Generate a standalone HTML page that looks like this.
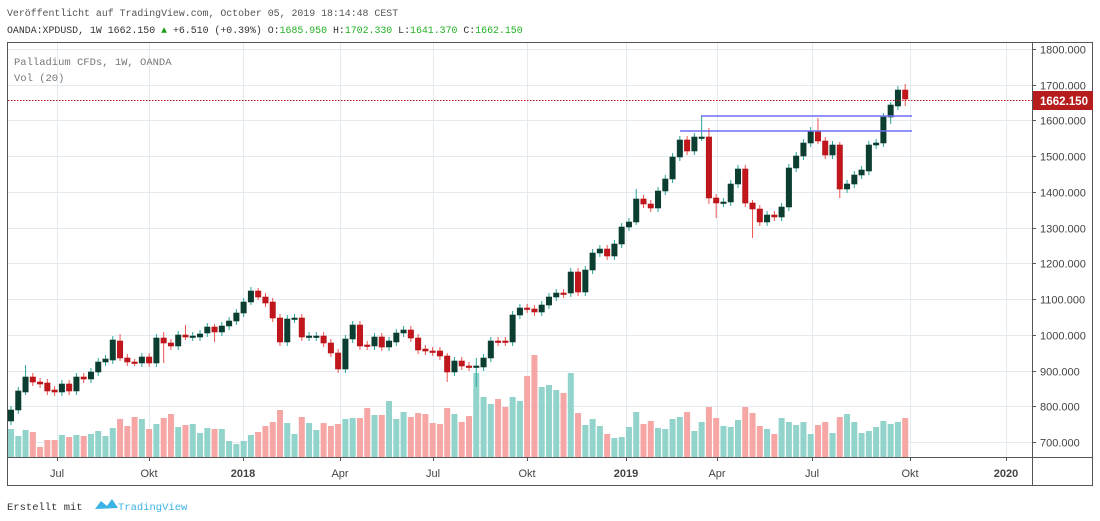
<!DOCTYPE html>
<html><head><meta charset="utf-8"><style>
body{margin:0;background:#fff;width:1100px;height:521px;overflow:hidden}
svg{position:absolute;left:0;top:0}
</style></head><body>
<svg id="s" width="1100" height="521" xmlns="http://www.w3.org/2000/svg" font-family="Liberation Sans, sans-serif">
<text x="7" y="16" font-family="Liberation Mono, monospace" font-size="9.9" fill="#555">Veröffentlicht auf TradingView.com, October 05, 2019 18:14:48 CEST</text>
<text x="7" y="33" font-family="Liberation Mono, monospace" font-size="9.9" fill="#333">OANDA:XPDUSD, 1W 1662.150 <tspan fill="#1a9c1a">▲</tspan> +6.510 (+0.39%) O:<tspan fill="#22b022">1685.950</tspan> H:<tspan fill="#22b022">1702.330</tspan> L:<tspan fill="#22b022">1641.370</tspan> C:<tspan fill="#22b022">1662.150</tspan></text>
<g id="grid"></g>
<g id="vol"></g>
<g id="cnd"></g>
<line x1="680" y1="131" x2="912" y2="131" stroke="#6f6ff5" stroke-width="1.6"/>
<line x1="701" y1="116" x2="912" y2="116" stroke="#6f6ff5" stroke-width="1.6"/>
<line x1="8" y1="100.5" x2="1032" y2="100.5" stroke="#c0161c" stroke-width="1" stroke-dasharray="1.5,1.5"/>
<text x="14" y="65" font-family="Liberation Mono, monospace" font-size="10.5" fill="#777">Palladium CFDs, 1W, OANDA</text>
<text x="14" y="81" font-family="Liberation Mono, monospace" font-size="10.5" fill="#777">Vol (20)</text>
<rect x="7.5" y="42.5" width="1085" height="443" fill="none" stroke="#555" stroke-width="1"/>
<line x1="1032.5" y1="42" x2="1032.5" y2="486" stroke="#555"/>
<line x1="7" y1="457.5" x2="1093" y2="457.5" stroke="#555"/>
<g id="ax"></g>
<rect x="1033" y="91" width="60" height="19" fill="#b71c1c"/>
<text x="1040" y="105" font-size="11.5" font-weight="bold" fill="#fff">1662.150</text>
<text x="7" y="510" font-family="Liberation Mono, monospace" font-size="10.5" fill="#333">Erstellt mit</text>
<path d="M95 509 L101 501 L107 506 L112 499 L118 508 Z" fill="#3bb3e4"/>
<text x="118" y="510" font-family="Liberation Mono, monospace" font-size="10.5" fill="#3bb3e4">TradingView</text>
</svg>
<script>
var ns="http://www.w3.org/2000/svg";
function el(p,t,a,txt){var e=document.createElementNS(ns,t);for(var k in a)e.setAttribute(k,a[k]);if(txt)e.textContent=txt;document.getElementById(p).appendChild(e);return e;}
for(var k=0;k<=11;k++){var y=Math.round(49+35.73*k)+.5;el("grid","line",{x1:8,x2:1032,y1:y,y2:y,stroke:"#e3ebf1"});
el("ax","line",{x1:1032,x2:1036,y1:y,y2:y,stroke:"#555"});
el("ax","text",{x:1040,y:y+4,"font-size":"11",fill:"#444"},(1800-100*k)+".000");}
var months=[[57,"Jul"],[149,"Okt"],[243,"2018"],[340,"Apr"],[433,"Jul"],[527,"Okt"],[626,"2019"],[717,"Apr"],[812,"Jul"],[910,"Okt"],[1006,"2020"]];
months.forEach(function(m){var x=m[0]+.5;el("grid","line",{x1:x,x2:x,y1:43,y2:457,stroke:"#e3ebf1"});
el("ax","line",{x1:x,x2:x,y1:457,y2:461,stroke:"#555"});
var b=m[1].length==4&&m[1][0]=="2";
el("ax","text",{x:m[0],y:477,"font-size":"11","text-anchor":"middle",fill:"#444","font-weight":b?"bold":"normal"},m[1]);});
var C=[[410,421,1],[391,410,1],[377,392,1],[377,382,0],[382,384,0],[383,391,0],[390,392,0],[384,392,1],[384,391,0],[377,391,1],[377,379,0],[372,379,1],[362,372,1],[359,362,1],[340,360,1],[341,358,0],[358,362,0],[362,363,0],[357,363,1],[357,363,0],[338,363,1],[338,343,0],[343,346,0],[335,346,1],[335,337,0],[336,337,1],[334,337,1],[327,333,1],[327,332,0],[326,332,1],[321,326,1],[313,321,1],[302,313,1],[291,302,1],[291,297,0],[297,303,0],[302,318,0],[318,342,0],[319,342,1],[318,319,1],[318,337,0],[336,337,1],[336,337,1],[336,343,0],[343,353,0],[353,369,0],[339,369,1],[325,339,1],[325,346,0],[345,346,0],[337,346,1],[337,347,0],[341,347,1],[333,342,1],[330,333,1],[330,338,0],[338,350,0],[349,351,0],[351,352,0],[351,356,0],[356,372,0],[361,372,1],[361,366,0],[366,367,0],[366,367,1],[358,367,1],[341,358,1],[341,342,0],[341,342,0],[315,342,1],[308,315,1],[308,309,0],[309,312,0],[305,312,1],[297,305,1],[293,297,1],[293,294,0],[272,293,1],[272,292,0],[270,292,1],[253,270,1],[249,253,1],[249,256,0],[244,256,1],[227,244,1],[222,227,1],[199,222,1],[199,204,0],[204,208,0],[191,208,1],[179,191,1],[157,179,1],[140,157,1],[140,151,0],[137,151,1],[137,138,1],[137,198,0],[198,203,0],[202,203,1],[184,202,1],[169,184,1],[169,203,0],[203,209,0],[209,222,0],[215,222,1],[215,217,0],[207,217,1],[168,207,1],[156,168,1],[143,156,1],[131,143,1],[131,141,0],[141,155,0],[145,155,1],[145,189,0],[184,189,1],[175,184,1],[170,175,1],[145,171,1],[143,145,1],[117,143,1],[105,117,1],[90,106,1],[90,99,0]];
var V=[429,436,430,432,447,440,440,435,437,435,436,434,431,436,428,419,426,417,419,429,424,418,414,427,425,424,433,428,429,429,441,444,441,435,432,426,422,410,423,434,417,423,430,423,426,424,419,418,418,408,415,415,401,419,412,417,413,414,423,424,408,414,422,416,373,397,404,399,407,397,401,376,355,387,385,390,393,373,413,425,419,426,434,438,437,427,412,424,421,428,429,419,417,412,431,422,407,418,426,427,420,407,413,426,429,434,418,422,425,422,434,425,422,433,417,414,422,433,431,427,421,424,422,418];
var W={17:[20,3],33:[-4,0],34:[-3,0],60:[0,10],64:[-8,20],86:[-10,0],95:[-22,0],96:[-9,6],97:[-4,15],102:[0,29],111:[-13,0],114:[0,9],123:[-6,7],121:[0,7],24:[-10,0],28:[0,10],2:[-12,0],15:[-7,0],21:[-6,20]};
for(var i=0;i<C.length;i++){var x=11+7.27*i,c=C[i],g=c[2];
var v=V[i]||430;el("vol","rect",{x:x-3,y:v,width:6,height:457-v,fill:g?"#92d3cb":"#f5a6a5"});
var w=W[i]||[-4,4];
el("cnd","line",{x1:x,x2:x,y1:c[0]+Math.min(-3,w[0]),y2:c[1]+Math.max(3,w[1]),stroke:g?"#26a69a":"#ef5350","stroke-width":1});
var h=Math.max(1.5,c[1]-c[0]);
el("cnd","rect",{x:x-2.7,y:c[0],width:5.4,height:h,fill:g?"#0b3d30":"#c0161c",stroke:g?"#0b3d30":"#b31217","stroke-width":0.6});}
</script>
</body></html>
